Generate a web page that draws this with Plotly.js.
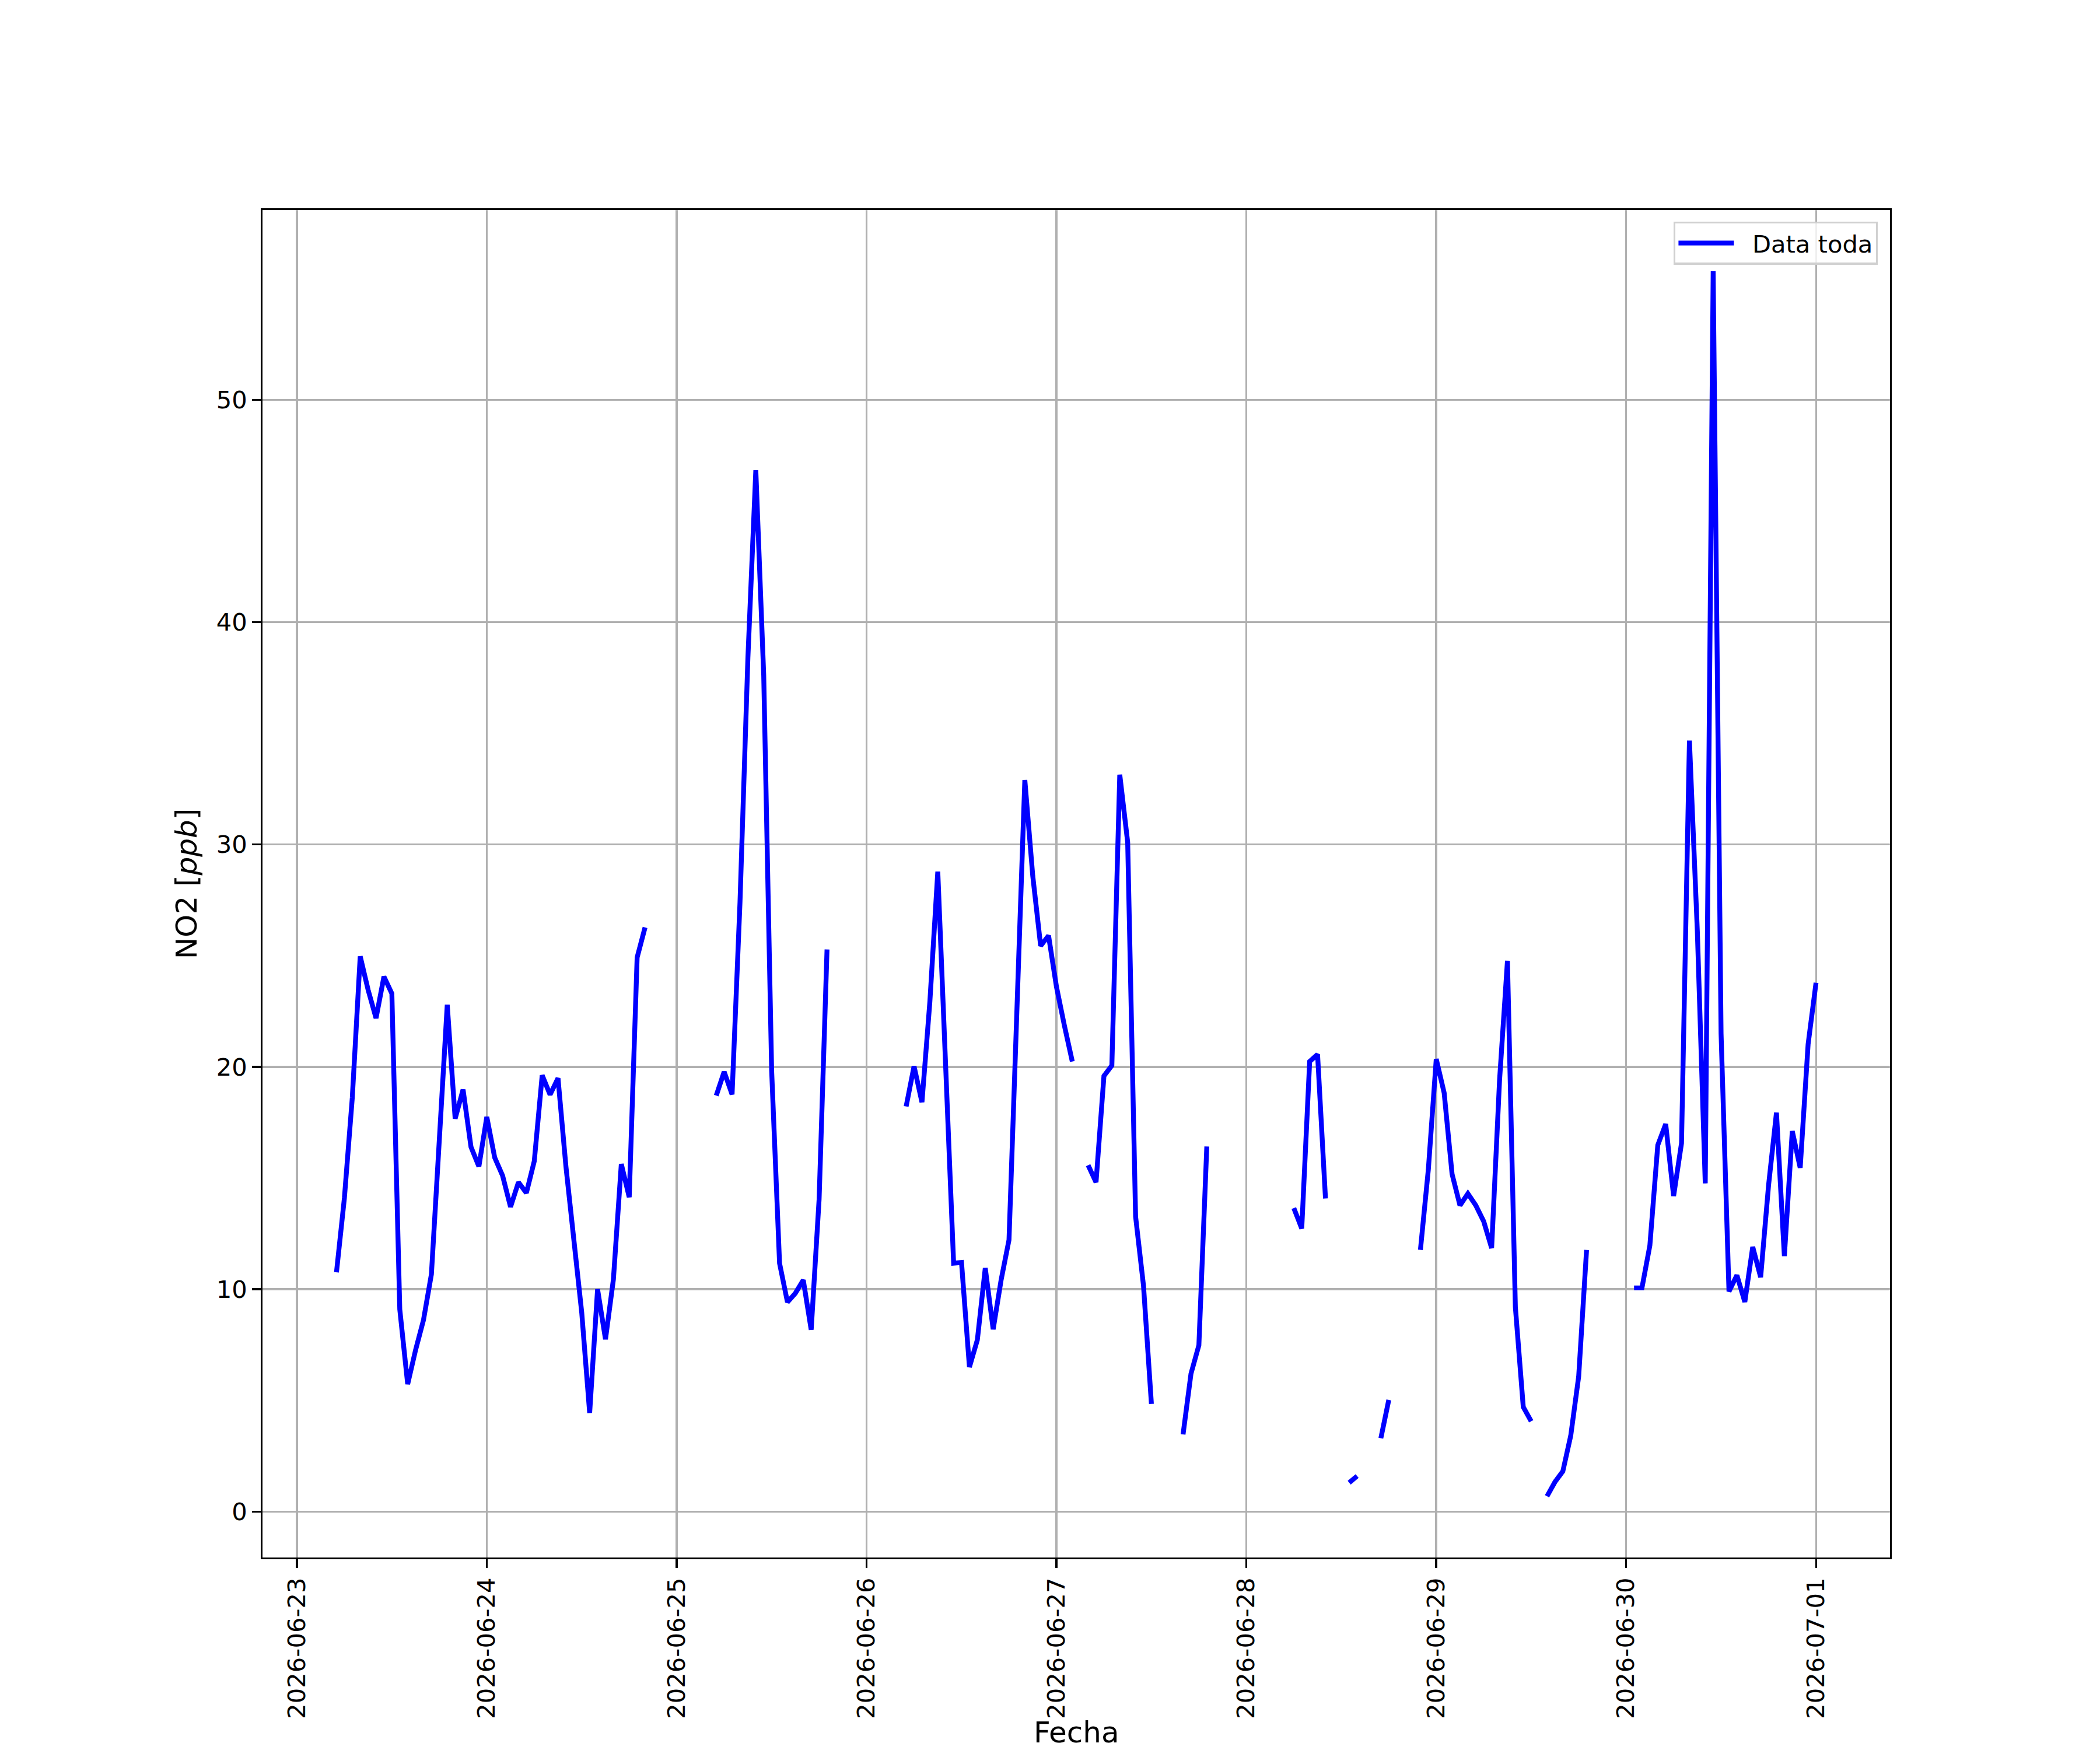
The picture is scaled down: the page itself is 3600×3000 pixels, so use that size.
<!DOCTYPE html>
<html>
<head>
<meta charset="utf-8">
<script src="https://cdn.plot.ly/plotly-3.0.1.min.js"></script>
<style>html,body{margin:0;padding:0;background:#fff;}#chart{width:3600px;height:3000px;}</style>
</head>
<body>
<div id="chart"></div>
<script>
// Hourly NO2 segments (start time of each contiguous run, then hourly values)
const segmentStarts = [
  "2026-06-23T05:00", "2026-06-25T05:00", "2026-06-26T05:00", "2026-06-27T04:00",
  "2026-06-27T16:00", "2026-06-28T06:00", "2026-06-28T13:00", "2026-06-28T17:00",
  "2026-06-28T22:00", "2026-06-29T14:00", "2026-06-30T01:00"
];
const seg1 = [10.76, 14.1, 18.62, 24.97, 23.46, 22.19, 24.06, 23.3, 9.1, 5.73, 7.27, 8.62, 10.68, 16.5, 22.79, 17.67, 18.98, 16.4, 15.52, 17.75, 15.92, 15.1, 13.7, 14.81, 14.33, 15.76, 19.62, 18.75, 19.49, 15.52, 12.43, 8.94, 4.44, 10.0, 7.75, 10.44, 15.63, 14.14, 24.92, 26.27];
const seg2 = [18.71, 19.78, 18.76, 27.4, 38.4, 46.83, 37.6, 19.84, 11.17, 9.42, 9.82, 10.41, 8.18, 14.05, 25.28];
const seg3 = [18.22, 20.03, 18.41, 22.94, 28.78, 19.9, 11.17, 11.2, 6.5, 7.72, 10.95, 8.2, 10.41, 12.22, 22.3, 32.9, 28.6, 25.44, 25.9, 23.6, 21.86, 20.24];
const seg4 = [15.58, 14.81, 19.59, 20.06, 33.14, 30.1, 13.27, 10.16, 4.84];
const seg5 = [3.47, 6.2, 7.48, 16.42];
const seg6 = [13.65, 12.73, 20.24, 20.56, 14.08];
const seg7 = [1.3, 1.6];
const seg8 = [3.3, 5.02];
const seg9 = [11.77, 15.38, 20.35, 18.83, 15.18, 13.77, 14.3, 13.77, 13.05, 11.85, 19.39, 24.77, 9.2, 4.7, 4.06];
const seg10 = [0.69, 1.33, 1.81, 3.42, 6.07, 11.77];
const seg11 = [10.06, 10.06, 11.97, 16.48, 17.43, 14.19, 16.57, 34.67, 26.1, 14.76, 55.78, 21.49, 9.9, 10.63, 9.43, 11.9, 10.54, 14.67, 17.94, 11.49, 17.11, 15.46, 21.02, 23.78];
const segments = [seg1, seg2, seg3, seg4, seg5, seg6, seg7, seg8, seg9, seg10, seg11];

const xTickLabels = ["2026-06-23","2026-06-24","2026-06-25","2026-06-26","2026-06-27","2026-06-28","2026-06-29","2026-06-30","2026-07-01"];
const yTicks = [0, 10, 20, 30, 40, 50];
const seriesName = "Data toda";
const xTitle = "Fecha";
const yTitle = "NO2 [<i>ppb</i>]";

const HOUR = 3600000;
function parseT(s){ return Date.parse(s + ":00Z"); }
function fmt(ms){ return new Date(ms).toISOString().slice(0,19).replace("T"," "); }

const xs = [], ys = [];
let tmin = Infinity, tmax = -Infinity, vmin = Infinity, vmax = -Infinity;
segments.forEach((vals, i) => {
  const t0 = parseT(segmentStarts[i]);
  vals.forEach((v, k) => {
    const t = t0 + k*HOUR;
    xs.push(fmt(t)); ys.push(v);
    tmin = Math.min(tmin, t); tmax = Math.max(tmax, t);
    vmin = Math.min(vmin, v); vmax = Math.max(vmax, v);
  });
  if (i < segments.length - 1) {
    xs.push(fmt(t0 + vals.length*HOUR - HOUR/2)); ys.push(null);
  }
});
const tpad = (tmax - tmin)*0.05, vpad = (vmax - vmin)*0.05;

const LW = 300/72;
const trace = {
  x: xs, y: ys, type: "scatter", mode: "lines", name: "\u00a0\u00a0" + seriesName,
  connectgaps: false,
  line: {color: "#0000ff", width: 2*LW}
};
const tickFont = {family: "DejaVu Sans", size: 41.67, color: "#000"};
const layout = {
  width: 3600, height: 3000, autosize: false,
  paper_bgcolor: "#fff", plot_bgcolor: "#fff",
  margin: {l: 450, r: 360, t: 360, b: 330, pad: 0},
  showlegend: true,
  legend: {
    x: 0.9925, y: 0.9915, xanchor: "right", yanchor: "top",
    bgcolor: "rgba(255,255,255,0.8)", bordercolor: "#d0d0d0", borderwidth: 0.8*LW,
    font: {family: "DejaVu Sans", size: 41.67, color: "#000"},
    itemwidth: 95
  },
  annotations: [{
    text: xTitle, xref: "paper", yref: "paper", x: 0.5, y: (2670 - 3000)/2310,
    xanchor: "center", yanchor: "bottom", showarrow: false, borderpad: 0,
    font: {family: "DejaVu Sans", size: 50, color: "#000"}
  }],
  xaxis: {
    type: "date",
    range: [fmt(tmin - tpad), fmt(tmax + tpad)],
    tickmode: "array",
    tickvals: xTickLabels,
    ticktext: xTickLabels,
    tickangle: -90,
    tickfont: tickFont,
    ticks: "outside", ticklen: 3.5*LW, tickwidth: 0.8*LW, tickcolor: "#000",
    showgrid: true, gridcolor: "#b0b0b0", gridwidth: 0.8*LW,
    showline: true, linecolor: "#000", linewidth: 0.8*LW, mirror: true,
    zeroline: false
  },
  yaxis: {
    range: [vmin - vpad, vmax + vpad],
    tickmode: "array", tickvals: yTicks, ticktext: yTicks.map(String),
    tickfont: tickFont,
    ticks: "outside", ticklen: 3.5*LW, tickwidth: 0.8*LW, tickcolor: "#000",
    showgrid: true, gridcolor: "#b0b0b0", gridwidth: 0.8*LW,
    showline: true, linecolor: "#000", linewidth: 0.8*LW, mirror: true,
    zeroline: false,
    title: {text: yTitle, font: {family: "DejaVu Sans", size: 50, color: "#000"}, standoff: 18}
  }
};
Plotly.newPlot("chart", [trace], layout, {displayModeBar: false, staticPlot: true});
</script>
</body>
</html>
